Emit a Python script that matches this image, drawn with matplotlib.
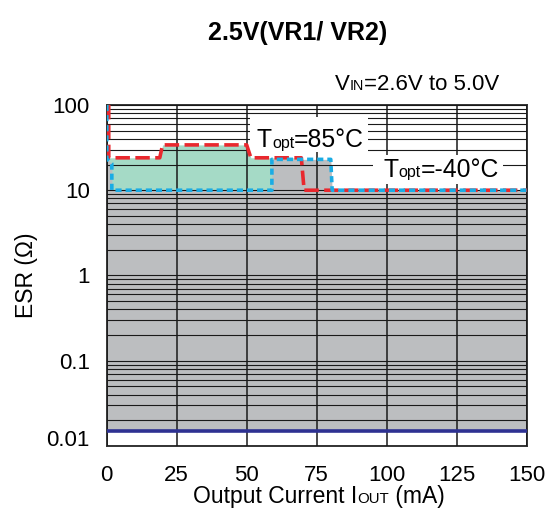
import numpy as np
import matplotlib
matplotlib.use("Agg")
import matplotlib.pyplot as plt
from matplotlib.patches import Rectangle

plt.rcParams['font.family'] = ['Liberation Sans', 'DejaVu Sans']

# ESR stability boundaries
current_85 = [0.8, 0.8, 19, 20, 50, 51.5, 69.5, 70.5, 150]
esr_85 = [100, 24, 24, 34, 34, 24, 24, 10, 10]
current_m40 = [0.1, 0.1, 1.9, 1.9, 59, 59, 80, 80.5, 150]
esr_m40 = [100, 23.5, 20.5, 10, 10, 23, 23, 10, 10]
esr_min = 0.015

x_ticks = [0, 25, 50, 75, 100, 125, 150]
y_ticks = [0.01, 0.1, 1, 10, 100]
y_labels = ['0.01', '0.1', '1', '10', '100']

RED = '#E9282E'
BLUE = '#1AACE4'
NAVY = '#2E3192'
GRAY = '#BCBEC0'
GREEN = '#A5DAC6'


def mixed_text(ax, x, y, parts, transform, zorder=6):
    # text pieces of different sizes on one baseline
    s, fs = parts[0]
    prev = ax.text(x, y, s, fontsize=fs, ha='left', va='baseline',
                   transform=transform, zorder=zorder)
    prev_fs = fs
    for s, fs in parts[1:]:
        dy = 0.21 * (prev_fs - fs)
        prev = ax.annotate(s, xy=(1, 0), xycoords=prev, xytext=(0, dy),
                           textcoords='offset points', fontsize=fs,
                           ha='left', va='bottom', zorder=zorder)
        prev_fs = fs
    return prev


fig = plt.figure(figsize=(5.47, 5.16), dpi=100)
ax = fig.add_axes([0.1947, 0.1357, 0.7687, 0.6609])

ax.set_yscale('log')
ax.set_xlim(0, 150)
ax.set_ylim(0.01, 100)

# stable regions
ax.fill_between(current_85, esr_min, esr_85, color=GREEN, lw=0, zorder=1)
ax.fill_between(current_m40, esr_min, esr_m40, color=GRAY, lw=0, zorder=1.1)

ax.set_axisbelow(False)
ax.yaxis.set_minor_locator(matplotlib.ticker.LogLocator(base=10, subs=np.arange(2, 10)))
ax.yaxis.set_minor_formatter(matplotlib.ticker.NullFormatter())
ax.grid(True, axis='y', which='both', color='#1a1a1a', lw=0.8)
ax.grid(True, axis='x', which='major', color='#1a1a1a', lw=1.1)

ax.axhline(esr_min, color=NAVY, lw=2.6, zorder=4)

ax.plot(current_85, esr_85, color=RED, lw=2.6, ls=(0, (4, 1.5)), zorder=5)
ax.plot(current_m40, esr_m40, color=BLUE, lw=2.6, ls=(0, (1.7, 1.1)), zorder=5.1)

# white boxes behind the temperature labels
ax.add_patch(Rectangle((51.2, 28.0), 93.3 - 51.2, 72.3 - 28.0, facecolor='white',
                       edgecolor='none', zorder=3.5))
ax.add_patch(Rectangle((95.1, 11.8), 141.4 - 95.1, 25.8 - 11.8, facecolor='white',
                       edgecolor='none', zorder=3.5))
mixed_text(ax, 53.6, 31.8, [('T', 17.8), ('opt', 11.5), ('=85°C', 17.8)], ax.transData)
mixed_text(ax, 98.7, 14.3, [('T', 17.8), ('opt', 11.5), ('=-40°C', 17.8)], ax.transData)

ax.set_xticks(x_ticks)
ax.set_xticklabels([str(v) for v in x_ticks])
ax.set_yticks(y_ticks)
ax.set_yticklabels(y_labels)
ax.tick_params(axis='both', which='both', length=0, labelsize=16)
ax.tick_params(axis='x', pad=13.5)
ax.tick_params(axis='y', pad=12)
ax.yaxis.get_major_ticks()[0].label1.set_va('baseline')

for sp in ax.spines.values():
    sp.set_color('#333333')
    sp.set_linewidth(1.4)

fig.text(298 / 547, 1 - 40 / 516, '2.5V(VR1/ VR2)', fontsize=18, fontweight='bold',
         ha='center', va='baseline')
mixed_text(ax, (335 - 106.5) / 420.5, (446 - 90) / 341,
           [('V', 16), ('IN', 10.4), ('=2.6V to 5.0V', 16)], ax.transAxes)
mixed_text(ax, (193 - 106.5) / 420.5, (446 - 503) / 341,
           [('Output Current I', 16.5), ('OUT', 10.8), (' (mA)', 16.5)], ax.transAxes)
fig.text(26.5 / 547, 1 - 275 / 516, 'ESR (Ω)', fontsize=16.5, rotation=90,
         ha='center', va='center')

fig.savefig('out.png', dpi=100)
